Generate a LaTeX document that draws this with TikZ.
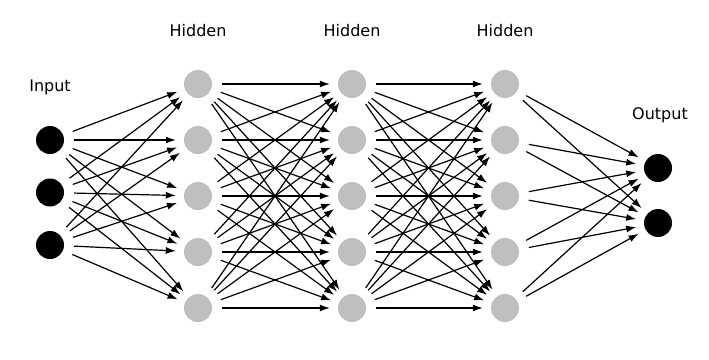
\documentclass[tikz,border=0pt]{standalone}
\usepackage{fontspec}
\setmainfont{DejaVu Sans}
\usetikzlibrary{arrows.meta}

\begin{document}
\begin{tikzpicture}[
        x=1pt, y=-1pt,
        neuron/.style={circle, minimum size=28pt, inner sep=0pt},
        dark/.style={neuron, fill=black},
        hidden/.style={neuron, fill=black!25},
        lbl/.style={font=\fontsize{16}{19}\selectfont},
        arr/.style={-{Latex[length=10pt,width=7pt]}, line width=1.2pt, shorten <=10pt, shorten >=8pt}
    ]
    \useasboundingbox (0,0) rectangle (709,359);
    % layers
    \foreach \i/\y in {1/140,2/192.5,3/245}
        \node[dark] (in\i) at (50,\y) {};
    \foreach \l/\x in {1/198,2/352,3/505}
        \foreach \j/\y in {1/84,2/140,3/196,4/252,5/308}
            \node[hidden] (h\l\j) at (\x,\y) {};
    \foreach \k/\y in {1/168,2/223}
        \node[dark] (out\k) at (658,\y) {};
    % labels
    \node[lbl] (tin) at (50,87) {Input};
    \node[lbl] (th1) at (198,31) {Hidden};
    \node[lbl] (th2) at (352,31) {Hidden};
    \node[lbl] (th3) at (505,31) {Hidden};
    \node[lbl] (tout) at (660,115) {Output};
    % connections
    \foreach \i in {1,2,3}
        \foreach \j in {1,...,5}
            \draw[arr] (in\i) -- (h1\j);
    \foreach \i in {1,...,5}
        \foreach \j in {1,...,5} {
            \draw[arr] (h1\i) -- (h2\j);
            \draw[arr] (h2\i) -- (h3\j);
        }
    \foreach \i in {1,...,5}
        \foreach \k in {1,2}
            \draw[arr] (h3\i) -- (out\k);
\end{tikzpicture}
\end{document}
